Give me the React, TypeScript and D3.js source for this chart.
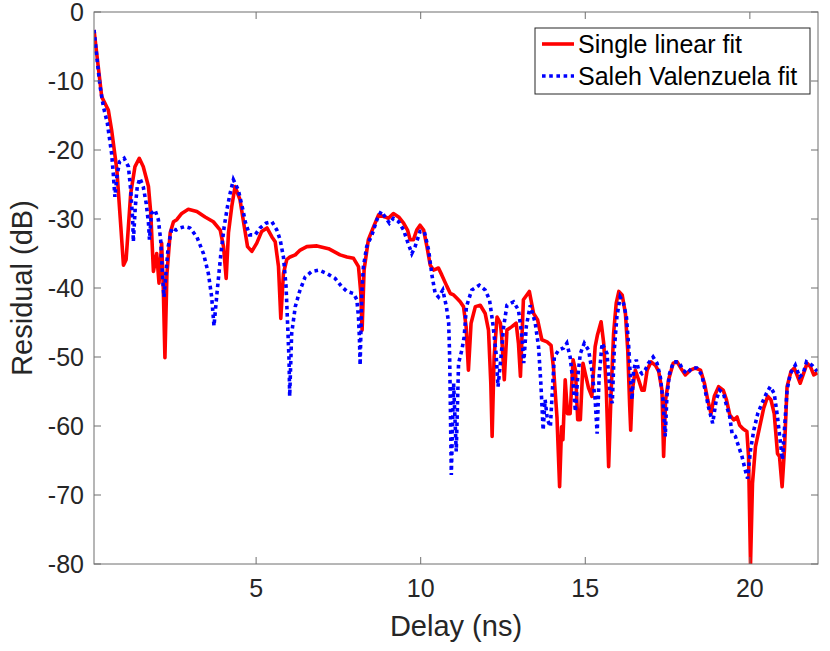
import React from "react";
import * as d3 from "d3";

// Delay (ns) / residual (dB)
const singleDelay = [
  0.075, 0.31, 0.51, 0.61, 0.77, 0.89, 0.97, 1.05, 1.19, 1.32, 1.45, 1.57, 1.73, 1.8, 1.88, 1.98,
  2.05, 2.13, 2.18, 2.23, 2.29, 2.39, 2.49, 2.59, 2.74, 2.94, 3.2, 3.45, 3.7, 3.91, 4.01, 4.09,
  4.16, 4.26, 4.36, 4.51, 4.64, 4.74, 4.87, 5.02, 5.17, 5.33, 5.48, 5.58, 5.68, 5.75, 5.83, 5.93,
  6.03, 6.19, 6.34, 6.54, 6.85, 7.2, 7.55, 7.76, 7.96, 8.11, 8.18, 8.22, 8.28, 8.41, 8.57, 8.72,
  8.92, 9.02, 9.17, 9.33, 9.48, 9.6, 9.68, 9.78, 9.88, 9.98, 10.09, 10.19, 10.29, 10.39, 10.54,
  10.64, 10.8, 10.9, 11.0, 11.1, 11.2, 11.3, 11.38, 11.45, 11.53, 11.66, 11.81, 11.96, 12.06,
  12.13, 12.17, 12.23, 12.32, 12.42, 12.46, 12.54, 12.62, 12.77, 12.9, 12.97, 13.03, 13.12, 13.3,
  13.43, 13.55, 13.68, 13.84, 13.96, 14.04, 14.14, 14.22, 14.28, 14.32, 14.39, 14.46, 14.54,
  14.63, 14.7, 14.77, 14.85, 14.93, 15.0, 15.1, 15.2, 15.3, 15.37, 15.48, 15.56, 15.64, 15.71,
  15.78, 15.86, 15.94, 16.02, 16.12, 16.22, 16.29, 16.35, 16.38, 16.43, 16.52, 16.62, 16.72,
  16.79, 16.88, 17.0, 17.13, 17.23, 17.33, 17.38, 17.44, 17.53, 17.67, 17.79, 17.94, 18.04,
  18.19, 18.34, 18.5, 18.62, 18.72, 18.82, 18.92, 19.05, 19.19, 19.29, 19.39, 19.51, 19.61,
  19.69, 19.79, 19.91, 19.96, 20.02, 20.08, 20.17, 20.3, 20.42, 20.54, 20.64, 20.74, 20.84, 20.9,
  20.98, 21.05, 21.13, 21.25, 21.35, 21.43, 21.53, 21.63, 21.74, 21.84, 21.94, 22.05,
];
const singleResidual = [
  -2.6, -12.3, -14.2, -17.1, -22.9, -31.1, -36.7, -35.9, -26.3, -22.4, -21.2, -22.4, -25.3, -29.2,
  -37.6, -35.0, -39.3, -33.5, -40.0, -50.1, -38.0, -32.0, -30.4, -30.1, -29.2, -28.6, -28.9, -29.7,
  -30.4, -31.6, -34.0, -38.6, -32.0, -28.2, -25.3, -27.2, -31.1, -34.0, -34.7, -33.5, -31.8, -31.3,
  -32.6, -33.3, -36.9, -44.4, -37.9, -35.9, -35.5, -35.2, -34.5, -34.0, -33.9, -34.3, -35.2, -35.5,
  -35.7, -36.9, -40.7, -46.1, -37.4, -33.0, -31.1, -29.4, -29.7, -29.9, -29.2, -29.7, -30.6, -31.6,
  -33.0, -33.0, -31.6, -30.9, -31.6, -34.0, -36.7, -37.4, -37.1, -38.1, -39.8, -40.8, -41.0, -41.5,
  -42.0, -42.7, -45.6, -51.9, -45.1, -42.7, -42.5, -43.7, -46.1, -53.8, -61.5, -50.0, -44.2, -45.1,
  -47.0, -53.3, -46.1, -45.6, -45.1, -48.0, -52.8, -41.7, -40.5, -43.7, -44.6, -47.5, -47.8, -48.3,
  -51.9, -58.7, -68.8, -60.1, -62.0, -53.3, -58.2, -58.2, -50.4, -51.9, -59.1, -59.1, -50.9, -52.4,
  -54.5, -55.7, -48.5, -46.8, -44.9, -48.0, -54.8, -65.9, -55.7, -46.6, -42.2, -40.5, -41.0, -43.7,
  -49.0, -57.2, -60.6, -54.8, -51.9, -53.3, -54.8, -54.8, -51.9, -50.7, -51.2, -52.1, -54.8, -64.4,
  -56.2, -53.3, -50.9, -50.7, -51.9, -52.6, -51.9, -51.6, -51.9, -53.8, -56.2, -58.2, -55.7, -54.3,
  -54.8, -56.2, -58.4, -59.1, -58.7, -59.9, -60.4, -60.8, -64.4, -80.0, -68.3, -63.0, -60.1, -57.4,
  -55.7, -56.2, -58.2, -64.0, -64.4, -68.8, -63.5, -54.3, -52.1, -51.6, -52.6, -53.8, -52.4, -50.9,
  -51.4, -52.6, -52.3,
];

const svDelay = [
  0.076, 0.18, 0.26, 0.36, 0.48, 0.61, 0.66, 0.71, 0.77, 0.85, 0.99, 1.12, 1.19, 1.25, 1.27, 1.33,
  1.39, 1.47, 1.57, 1.66, 1.73, 1.76, 1.82, 1.93, 2.03, 2.1, 2.16, 2.2, 2.26, 2.33, 2.44, 2.57,
  2.69, 2.84, 2.99, 3.2, 3.4, 3.55, 3.65, 3.72, 3.82, 3.93, 4.03, 4.13, 4.21, 4.31, 4.46, 4.6,
  4.67, 4.8, 4.97, 5.12, 5.3, 5.48, 5.63, 5.73, 5.83, 5.91, 5.96, 6.0, 6.02, 6.08, 6.19, 6.32,
  6.49, 6.69, 6.91, 7.15, 7.4, 7.6, 7.76, 7.96, 8.06, 8.11, 8.14, 8.16, 8.21, 8.26, 8.36, 8.52,
  8.67, 8.8, 8.92, 9.05, 9.17, 9.33, 9.48, 9.6, 9.73, 9.83, 9.98, 10.11, 10.24, 10.34, 10.44,
  10.54, 10.67, 10.78, 10.85, 10.88, 10.9, 10.93, 11.0, 11.08, 11.15, 11.25, 11.32, 11.39, 11.55,
  11.78, 11.96, 12.09, 12.19, 12.29, 12.35, 12.44, 12.52, 12.62, 12.82, 12.97, 13.08, 13.13,
  13.21, 13.33, 13.48, 13.58, 13.65, 13.72, 13.78, 13.85, 13.94, 13.99, 14.06, 14.19, 14.34,
  14.44, 14.54, 14.63, 14.7, 14.77, 14.85, 14.97, 15.1, 15.2, 15.3, 15.36, 15.42, 15.51, 15.66,
  15.76, 15.82, 15.88, 15.96, 16.06, 16.16, 16.25, 16.32, 16.37, 16.42, 16.47, 16.55, 16.62,
  16.72, 16.82, 16.92, 17.06, 17.18, 17.28, 17.36, 17.43, 17.48, 17.56, 17.68, 17.84, 17.97,
  18.09, 18.24, 18.39, 18.54, 18.64, 18.74, 18.87, 18.98, 19.08, 19.2, 19.3, 19.39, 19.46, 19.56,
  19.66, 19.76, 19.86, 19.93, 20.02, 20.12, 20.24, 20.37, 20.5, 20.62, 20.74, 20.84, 20.93,
  20.99, 21.05, 21.13, 21.23, 21.38, 21.51, 21.62, 21.72, 21.89, 22.04,
];
const svResidual = [
  -2.6, -7.4, -10.8, -13.7, -16.1, -20.5, -23.4, -26.8, -23.9, -21.7, -21.2, -22.4, -25.8, -30.1,
  -33.3, -28.2, -25.3, -24.1, -25.3, -27.7, -30.6, -33.0, -29.2, -28.7, -30.1, -33.0, -38.4, -41.3,
  -37.9, -34.0, -31.3, -31.6, -31.3, -31.1, -31.3, -32.6, -35.0, -37.9, -41.3, -45.5, -40.3, -35.0,
  -31.1, -28.2, -26.3, -24.3, -25.8, -28.7, -30.4, -32.3, -32.3, -31.3, -30.6, -30.4, -31.6, -33.0,
  -35.5, -39.8, -45.6, -50.4, -55.7, -46.6, -42.7, -40.5, -38.4, -37.6, -37.4, -37.9, -38.6, -39.8,
  -40.5, -40.8, -41.7, -44.2, -47.5, -51.2, -40.8, -36.9, -34.0, -32.3, -30.1, -28.9, -29.7, -30.6,
  -29.9, -30.4, -31.6, -33.3, -35.0, -34.0, -31.8, -31.8, -34.5, -38.1, -40.8, -41.3, -40.3, -42.7,
  -45.1, -50.0, -56.7, -67.1, -53.8, -63.7, -50.9, -49.0, -47.1, -42.7, -40.3, -39.6, -40.3, -41.7,
  -45.1, -49.5, -54.3, -50.0, -45.6, -42.5, -42.0, -43.2, -47.1, -50.9, -45.5, -42.5, -45.1, -48.5,
  -53.8, -60.6, -56.2, -59.1, -60.1, -55.7, -50.0, -49.0, -48.7, -48.0, -50.0, -53.8, -57.9, -52.9,
  -49.5, -48.0, -49.0, -51.9, -56.2, -61.1, -52.9, -48.0, -49.5, -55.7, -56.7, -49.0, -44.2, -41.3,
  -42.2, -44.2, -48.5, -52.9, -56.2, -51.9, -50.4, -51.9, -52.4, -51.9, -50.9, -50.0, -50.9, -52.9,
  -56.2, -61.5, -55.7, -52.4, -50.7, -50.7, -51.9, -52.4, -51.6, -51.6, -52.6, -54.8, -57.2, -59.6,
  -56.2, -54.8, -55.3, -57.2, -58.7, -61.1, -61.5, -63.0, -64.4, -66.4, -67.6, -63.5, -60.6, -58.2,
  -56.7, -55.3, -54.3, -55.3, -58.7, -62.5, -64.9, -60.6, -54.8, -52.4, -51.2, -52.9, -52.4, -50.7,
  -51.2, -52.1,
];

const xTicks = [5, 10, 15, 20];
const yTicks = [0, -10, -20, -30, -40, -50, -60, -70, -80];
const seriesNames = ["Single linear fit", "Saleh Valenzuela fit"];

const WIDTH = 830;
const HEIGHT = 651;
const FONT = "'Liberation Sans', Arial, Helvetica, sans-serif";
const TEXT = "#262626";
const AXIS = "#6f6f6f";

export default function App() {
  const margin = { top: 12, right: 12, bottom: 87, left: 94 };
  const x = d3.scaleLinear([0.075, 22.07], [margin.left, WIDTH - margin.right]);
  const y = d3.scaleLinear([-80, 0], [HEIGHT - margin.bottom, margin.top]);
  const [x0, x1] = x.range();
  const [y0, y1] = y.range(); // y0 bottom, y1 top
  const tickLen = 7;

  const line = d3.line<[number, number]>()
    .x((d) => x(d[0]))
    .y((d) => y(d[1]));

  const single = singleDelay.map((d, i) => [d, singleResidual[i]] as [number, number]);
  const sv = svDelay.map((d, i) => [d, svResidual[i]] as [number, number]);

  const legend = { x: 535, y: 28, w: 275, h: 66 };

  return (
    <svg width={WIDTH} height={HEIGHT} style={{ position: "absolute", left: 0, top: 0, background: "#fff" }}
      fontFamily={FONT}>
      <defs>
        <clipPath id="plot">
          <rect x={x0} y={y1} width={x1 - x0} height={y0 - y1} />
        </clipPath>
      </defs>

      <g clipPath="url(#plot)">
        <path d={line(single)!} fill="none" stroke="#ff0000" strokeWidth={3.6} strokeLinejoin="round" />
        <path d={line(sv)!} fill="none" stroke="#0000ff" strokeWidth={3.6} strokeDasharray="3.6 3.6" />
      </g>

      {/* box */}
      <rect x={x0} y={y1} width={x1 - x0} height={y0 - y1} fill="none" stroke={AXIS} strokeWidth={1} />

      <g name="xTicks">
        {xTicks.map((t) => (
          <g key={t}>
            <line x1={x(t)} x2={x(t)} y1={y0} y2={y0 - tickLen} stroke={AXIS} />
            <line x1={x(t)} x2={x(t)} y1={y1} y2={y1 + tickLen} stroke={AXIS} />
            <text x={x(t)} y={y0 + 33} textAnchor="middle" fontSize={25} fill={TEXT}>{t}</text>
          </g>
        ))}
      </g>

      <g name="yTicks">
        {yTicks.map((t) => (
          <g key={t}>
            <line x1={x0} x2={x0 + tickLen} y1={y(t)} y2={y(t)} stroke={AXIS} />
            <line x1={x1} x2={x1 - tickLen} y1={y(t)} y2={y(t)} stroke={AXIS} />
            <text x={x0 - 10} y={y(t)} dy="0.36em" textAnchor="end" fontSize={25} fill={TEXT}>{t}</text>
          </g>
        ))}
      </g>

      <text x={(x0 + x1) / 2} y={636} textAnchor="middle" fontSize={29} fill={TEXT}>Delay (ns)</text>
      <text transform={`translate(32,${(y0 + y1) / 2}) rotate(-90)`} textAnchor="middle" fontSize={29} fill={TEXT}>
        Residual (dB)
      </text>

      <g name="legend">
        <rect x={legend.x} y={legend.y} width={legend.w} height={legend.h} fill="#fff" stroke={TEXT} strokeWidth={1} />
        <line x1={legend.x + 7} x2={legend.x + 39} y1={legend.y + 16} y2={legend.y + 16} stroke="#ff0000" strokeWidth={3.6} />
        <line x1={legend.x + 7} x2={legend.x + 39} y1={legend.y + 48} y2={legend.y + 48} stroke="#0000ff" strokeWidth={3.6}
          strokeDasharray="3.6 3.6" />
        <text x={legend.x + 43} y={legend.y + 16} dy="0.36em" fontSize={25} fill="#000">{seriesNames[0]}</text>
        <text x={legend.x + 43} y={legend.y + 48} dy="0.36em" fontSize={25} fill="#000">{seriesNames[1]}</text>
      </g>
    </svg>
  );
}
